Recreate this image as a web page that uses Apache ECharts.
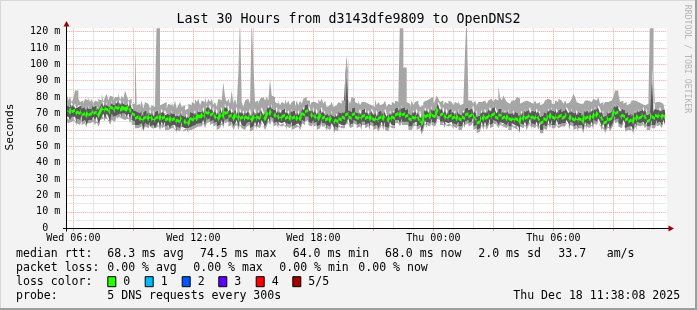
<!DOCTYPE html>
<html><head><meta charset="utf-8">
<script src="https://cdn.jsdelivr.net/npm/echarts@6/dist/echarts.min.js"></script>
<style>html,body{margin:0;padding:0;background:#f3f3f3}#c{width:697px;height:310px}</style>
</head><body><div id="c"></div><script>
// ---- data (ms), 5-minute steps starting Wed 05:40 ----
const dayNames = ['Wed', 'Thu'];
const startMinute = 340;      // Wed 05:40
const stepMinutes = 5;
const nSlots = 360;
const tickLabels = ['Wed 06:00', 'Wed 12:00', 'Wed 18:00', 'Thu 00:00', 'Thu 06:00'];
const yTickValues = [0, 10, 20, 30, 40, 50, 60, 70, 80, 90, 100, 110, 120];

const minRtt = [
65,64,66,65,66,62,64,63,66,63,64,61,64,63,64,65,63,65,62,64,
66,67,65,67,66,63,67,66,65,68,66,68,66,67,67,66,67,64,67,63,
63,61,62,61,62,59,61,62,61,63,60,61,60,61,62,60,63,61,62,60,
61,60,62,61,61,58,60,59,62,60,59,60,58,60,61,60,62,61,63,62,
62,64,61,65,64,65,63,64,62,63,60,61,64,61,66,64,65,62,63,60,
62,64,60,63,61,61,60,62,62,63,59,60,63,60,62,61,64,62,60,62,
65,63,66,64,62,63,61,63,61,62,63,60,62,61,63,60,62,61,62,60,
62,64,63,65,66,63,62,64,62,63,60,61,64,62,62,59,61,60,62,60,
58,60,59,62,60,61,61,63,64,62,61,62,64,63,61,62,60,63,63,61,
62,60,63,62,60,61,59,61,63,60,63,60,59,63,60,61,61,64,64,62,
65,63,64,63,63,60,60,62,62,63,60,61,57,60,64,61,63,62,65,63,
62,64,67,66,63,63,61,63,61,62,63,60,62,61,63,60,60,63,61,63,
64,62,63,66,60,61,58,59,63,60,63,60,62,65,61,62,64,63,61,63,
63,61,62,61,63,60,60,62,60,61,60,58,62,61,63,60,62,65,60,62,
61,63,60,63,58,58,61,60,64,61,64,61,61,64,60,61,63,62,62,64,
62,60,63,62,60,61,59,61,61,58,63,60,62,61,63,60,64,63,65,63,
60,62,58,60,62,59,61,63,67,64,65,62,61,64,62,59,61,60,60,58,
62,60,63,62,62,63,61,63,60,60,64,61,61,64,62,63,61,64,62,61];
const ping2 = [
68,66,69,68,68,64,67,66,69,65,66,63,67,66,66,68,66,68,64,66,
68,70,67,70,68,65,70,69,68,70,69,70,68,70,70,68,70,67,70,66,
65,63,64,63,64,60,63,64,63,65,62,63,61,63,65,62,65,63,65,62,
63,61,64,63,63,59,62,61,65,62,60,61,60,61,63,62,64,63,65,64,
64,66,63,68,66,67,65,66,64,65,62,63,66,63,68,66,67,65,65,62,
64,66,62,66,63,63,62,64,64,65,61,62,65,62,65,63,66,64,62,64,
67,65,68,67,64,65,63,65,63,64,65,62,64,63,65,62,64,63,64,62,
64,66,65,68,68,65,64,66,64,65,62,63,66,64,64,61,63,62,64,62,
60,62,61,64,62,63,63,65,67,64,63,64,66,65,63,64,62,65,65,63,
64,62,65,64,62,63,61,63,65,62,65,62,61,65,62,63,63,66,66,64,
67,65,66,65,65,62,62,64,64,65,62,63,59,62,66,63,65,64,67,65,
64,66,69,68,65,65,63,65,63,64,65,62,64,63,65,62,62,65,63,65,
66,64,65,68,62,63,60,61,65,62,65,62,64,67,63,64,66,65,63,65,
65,63,64,63,65,62,62,64,62,63,62,59,64,63,65,62,64,67,62,64,
63,65,62,65,60,60,63,62,66,63,66,63,63,66,62,63,65,64,64,66,
64,62,65,64,62,63,61,63,63,60,65,62,64,63,65,62,66,65,67,65,
62,64,60,62,64,61,63,65,69,66,67,64,63,66,64,61,63,62,62,60,
64,62,65,64,64,65,63,65,62,62,66,63,63,66,64,65,63,66,64,63];
const medianRtt = [
72,70,73,71,72,69,71,70,72,69,70,68,71,69,70,72,70,71,68,70,
72,74,71,73,72,70,74,73,71,74,73,75,72,74,73,72,74,71,73,70,
69,67,68,66,68,65,67,68,66,69,66,68,65,67,68,66,69,67,68,66,
67,65,68,66,67,64,66,65,68,66,64,66,63,65,67,66,68,66,69,68,
68,70,67,71,70,72,69,70,67,69,66,68,70,67,72,70,71,68,69,66,
68,70,66,69,67,68,66,68,67,69,65,67,69,66,68,67,70,68,66,68,
71,69,72,70,68,70,67,69,66,68,69,67,68,66,69,67,68,66,68,66,
68,70,69,71,72,70,68,70,67,69,66,68,70,67,68,66,67,65,68,66,
64,66,65,67,66,68,67,69,70,68,67,69,70,68,67,69,66,68,69,67,
68,66,69,67,66,68,65,67,68,66,69,67,65,68,66,68,67,69,70,68,
71,69,70,68,69,67,66,68,67,69,66,68,63,65,70,68,69,67,71,69,
68,70,73,71,69,70,67,69,66,68,69,67,68,66,69,67,66,68,67,69,
70,68,69,71,66,68,64,65,68,66,69,67,68,70,67,69,70,68,67,69,
69,67,68,66,69,67,66,68,65,67,66,64,68,66,69,67,68,70,66,68,
67,69,66,68,64,65,67,66,69,67,70,68,67,69,66,68,69,67,68,70,
68,66,69,67,66,68,65,67,66,64,69,67,68,66,69,67,70,68,71,69,
66,68,64,65,68,66,67,69,72,70,71,69,67,69,68,66,67,65,66,64,
68,66,69,67,68,70,67,69,65,66,70,68,67,69,68,70,67,69,68,67];
const ping4 = [
75,74,77,74,76,73,74,75,75,73,74,72,75,73,73,76,74,75,72,74,
76,78,74,77,75,74,78,76,75,78,76,79,75,78,76,75,78,74,77,73,
72,71,71,70,72,68,71,72,69,73,69,72,68,71,72,69,73,70,72,69,
70,69,72,70,70,68,70,68,72,69,68,70,67,69,71,70,72,69,73,71,
71,74,70,75,73,76,72,74,70,73,69,72,74,70,76,73,75,71,73,70,
72,74,69,73,70,72,69,72,70,73,68,71,73,69,72,70,74,71,69,72,
75,73,76,73,72,74,70,73,70,72,73,70,72,69,73,71,72,69,72,69,
72,74,72,75,76,73,71,74,70,73,69,72,74,70,72,69,70,68,72,69,
68,70,68,71,70,72,70,90,104,72,71,73,74,71,70,73,69,72,73,70,
72,69,73,71,69,72,68,71,72,69,73,70,68,72,69,72,70,73,74,71,
75,73,74,72,73,70,69,72,70,73,69,72,67,69,74,71,73,70,75,72,
72,74,77,75,72,74,70,73,69,72,73,70,72,69,73,70,69,72,70,73,
74,72,73,75,70,72,68,69,72,70,73,70,72,74,71,73,74,72,70,73,
73,70,72,70,73,70,70,72,69,71,70,68,72,69,73,71,72,74,70,72,
71,73,70,72,68,69,71,70,73,71,74,72,71,73,70,72,73,71,72,74,
72,70,73,71,70,72,69,71,70,68,73,71,72,70,73,71,74,72,75,73,
70,72,68,69,72,70,71,73,76,74,75,73,71,73,72,70,71,69,70,68,
72,70,73,71,72,74,71,73,69,70,87,100,71,73,72,74,71,73,72,71];
const maxRtt = [
82,78,80,77,79,84,84,79,77,78,76,79,78,80,77,79,76,78,77,79,
78,82,77,80,82,78,81,80,78,80,80,83,78,81,79,84,81,78,79,76,
76,113,75,76,74,78,73,77,76,75,73,75,74,76,130,130,75,76,75,77,
73,76,75,77,74,78,73,75,77,74,75,72,73,76,75,77,76,79,77,79,
75,78,77,80,76,79,77,79,75,77,74,79,78,78,89,80,77,79,76,84,
76,79,75,95,130,77,74,78,79,80,76,130,100,77,78,76,79,80,81,78,
80,78,91,81,80,77,76,78,75,77,76,79,76,78,75,77,78,74,78,75,
78,76,79,80,78,78,75,77,77,76,76,79,77,79,76,78,74,75,75,77,
74,75,76,77,76,78,78,92,106,79,76,80,79,77,76,78,75,77,77,78,
76,77,75,76,74,79,75,77,75,76,77,78,74,76,75,77,76,78,77,79,
130,130,98,98,77,76,74,78,75,77,78,76,74,75,77,78,77,79,78,80,
76,78,81,79,77,78,75,77,76,78,77,76,75,77,76,78,75,76,77,108,
130,78,78,77,76,78,75,77,77,78,78,77,76,78,79,80,77,79,78,87,
80,78,81,79,77,76,76,78,78,79,80,79,76,77,77,78,78,77,78,76,
77,78,76,77,75,76,77,78,79,80,78,76,76,78,77,79,78,77,76,78,
76,77,78,79,82,80,77,76,75,76,76,78,78,79,77,76,79,78,78,80,
76,77,75,77,77,78,78,79,80,84,84,82,77,78,76,77,75,76,77,78,
78,77,77,76,76,77,75,76,76,77,130,130,76,77,78,77,78,76,77,76];

// legend texts
const titleText = 'Last 30 Hours from d3143dfe9809 to OpenDNS2';
const medianStats = ['68.3 ms avg', '74.5 ms max', '64.0 ms min', '68.0 ms now', '2.0 ms sd', '33.7', 'am/s'];
const lossStats = ['0.00 % avg', '0.00 % max', '0.00 % min', '0.00 % now'];
const lossLabels = ['0', '1', '2', '3', '4', '5/5'];
const lossColors = ['#26ff00', '#00b8ff', '#0059ff', '#5e00ff', '#ff0000', '#a10000'];
const probeText = '5 DNS requests every 300s';
const dateText = 'Thu Dec 18 11:38:08 2025';
const sideText = 'RRDTOOL / TOBI OETIKER';

// ---- categories ----
const categories = [];
for (let i = 0; i <= nSlots; i++) {
  const t = startMinute + stepMinutes * i;
  const d = Math.floor(t / 1440), m = t % 1440;
  categories.push(dayNames[d] + ' ' + String(Math.floor(m / 60)).padStart(2, '0') + ':' + String(m % 60).padStart(2, '0'));
}
function hm(v) { const p = v.split(' ')[1].split(':'); return [+p[0], +p[1]]; }
const isMajorV = (i, v) => { const [h, m] = hm(v); return m === 0 && h % 3 === 0; };
const isMinorV = (i, v) => { const [h, m] = hm(v); return m === 0 && h % 3 !== 0; };

// stacked pieces
const lightLow = ping2.map((v, i) => v - minRtt[i]);
const darkMid = ping4.map((v, i) => v - ping2[i]);
const lightHigh = maxRtt.map((v, i) => v - ping4[i]);
const medHalf = 0.9;
const medBase = medianRtt.map(v => v - medHalf);
const medBand = medianRtt.map(() => medHalf * 2);

const LIGHT = '#a6a6a6', DARK = '#585858';
const MONO = 'DejaVu Sans Mono';
const RED = '#eca4a4', GRAY = '#d2d2d2';

const plotL = 66.7, plotW = 600, plotT = 28.3, plotB = 228.2;
const pxPerMs = (plotB - plotT) / 122;

function band(name, stack, data, color) {
  const s = { type: 'line', name, stack, data, step: 'end', showSymbol: false, symbol: 'none',
    lineStyle: { width: 0, opacity: 0 }, xAxisIndex: 0, yAxisIndex: 0, silent: true, z: 3 };
  if (color) s.areaStyle = { color, opacity: 1 };
  return s;
}

const chart = echarts.init(document.getElementById('c'), null, { renderer: 'canvas' });
const graphics = [];
function txt(x, y, text, style, rotation) {
  graphics.push({ type: 'text', x, y, rotation: rotation || 0, silent: true, z: 100,
    style: Object.assign({ x: 0, y: 0, text, font: '11.55px "' + MONO + '"', fill: '#000',
      textAlign: 'left', textVerticalAlign: 'middle', verticalAlign: 'middle' }, style || {}) });
}
// frame
graphics.push({ type: 'rect', shape: { x: 0, y: 0, width: 697, height: 1 }, style: { fill: '#d8d8d8' }, z: 100 });
graphics.push({ type: 'rect', shape: { x: 0, y: 0, width: 1, height: 310 }, style: { fill: '#d8d8d8' }, z: 100 });
graphics.push({ type: 'rect', shape: { x: 695, y: 0, width: 2, height: 310 }, style: { fill: '#9e9e9e' }, z: 100 });
graphics.push({ type: 'rect', shape: { x: 0, y: 308, width: 697, height: 2 }, style: { fill: '#9e9e9e' }, z: 100 });
// axes lines and arrows
graphics.push({ type: 'line', shape: { x1: 63, y1: 228.5, x2: 669, y2: 228.5 }, style: { stroke: '#000', lineWidth: 1 }, z: 50 });
graphics.push({ type: 'line', shape: { x1: 66.5, y1: 231.5, x2: 66.5, y2: 25 }, style: { stroke: '#000', lineWidth: 1 }, z: 50 });
graphics.push({ type: 'polygon', shape: { points: [[63.5, 26.5], [69.5, 26.5], [66.5, 21]] }, style: { fill: '#a00000' }, z: 51 });
graphics.push({ type: 'polygon', shape: { points: [[668.5, 225.5], [668.5, 231.5], [674, 228.5]] }, style: { fill: '#a00000' }, z: 51 });
// title and side texts
txt(348.5, 19.5, titleText, { font: '13.3px "' + MONO + '"', textAlign: 'center' });
txt(10.5, 127, 'Seconds', { font: '11.2px "' + MONO + '"', textAlign: 'center' }, Math.PI / 2);
txt(687.5, 59, sideText, { font: '8.2px "' + MONO + '"', textAlign: 'center', fill: '#b4b4b4' }, -Math.PI / 2);
// legend rows
const r1 = 254.2, r2 = 268.2, r3 = 282.2, r4 = 296.2;
txt(16, r1, 'median rtt:');
[107.3, 200, 292.7, 385, 478.3, 558.3, 606.7].forEach((x, k) => txt(x, r1, medianStats[k]));
txt(16, r2, 'packet loss:');
[107.3, 193.3, 279.3, 358.3].forEach((x, k) => txt(x, r2, lossStats[k]));
txt(16, r3, 'loss color:');
[108.3, 145.7, 182.7, 219.3, 256.7, 293.3].forEach((x, k) => {
  graphics.push({ type: 'rect', shape: { x: x - 0.5, y: r3 - 5.5, width: 8, height: 10 }, style: { fill: lossColors[k], stroke: '#000', lineWidth: 1 }, z: 100 });
  txt(x + 15, r3, lossLabels[k]);
});
txt(16, r4, 'probe:');
txt(107.3, r4, probeText);
txt(513.3, r4, dateText);

const option = {
  animation: false,
  backgroundColor: '#f3f3f3',
  grid: [
    { left: plotL, top: plotT, width: plotW, height: plotB - plotT, show: true, backgroundColor: '#ffffff', borderWidth: 0, containLabel: false },
    { left: plotL, top: plotB - 115 * pxPerMs, width: plotW, height: 110 * pxPerMs, show: false, containLabel: false }
  ],
  xAxis: [
    { type: 'category', gridIndex: 0, data: categories, boundaryGap: false, position: 'bottom',
      axisLine: { show: false },
      axisTick: { show: true, length: 2, interval: isMinorV, lineStyle: { color: GRAY } },
      axisLabel: { interval: (i, v) => tickLabels.indexOf(v) >= 0, fontFamily: MONO, fontSize: 10, color: '#000', margin: 5, hideOverlap: false },
      splitLine: { show: true, interval: isMinorV, lineStyle: { color: GRAY, type: [1, 1], width: 1 } } },
    { type: 'category', gridIndex: 0, data: categories, boundaryGap: false, position: 'bottom',
      axisLine: { show: false }, axisLabel: { show: false },
      axisTick: { show: true, length: 3, interval: isMajorV, lineStyle: { color: RED } },
      splitLine: { show: true, interval: isMajorV, lineStyle: { color: RED, type: [1, 1], width: 1 } } },
    { type: 'category', gridIndex: 1, data: categories, boundaryGap: false,
      axisLine: { show: false }, axisLabel: { show: false }, axisTick: { show: false }, splitLine: { show: false } }
  ],
  yAxis: [
    { type: 'value', gridIndex: 0, min: 0, max: 122, interval: 10,
      axisLine: { show: false }, axisTick: { show: false },
      axisLabel: { fontFamily: MONO, fontSize: 10, color: '#000', margin: 6.5,
        formatter: v => yTickValues.indexOf(v) < 0 ? '' : (v === 0 ? '0  ' : v + ' m') },
      splitLine: { show: true, showMinLine: false, showMaxLine: false, lineStyle: { color: RED, type: [1, 1], width: 1 } } },
    { type: 'value', gridIndex: 1, min: 5, max: 115, interval: 10,
      axisLine: { show: false }, axisTick: { show: false }, axisLabel: { show: false },
      splitLine: { show: true, lineStyle: { color: GRAY, type: [1, 1], width: 1 } } }
  ],
  series: [
    band('base', 'smoke', minRtt, null),
    band('low', 'smoke', lightLow, LIGHT),
    band('mid', 'smoke', darkMid, DARK),
    band('high', 'smoke', lightHigh, LIGHT),
    band('medbase', 'med', medBase, null),
    band('median', 'med', medBand, lossColors[0])
  ],
  graphic: { elements: graphics }
};
chart.setOption(option);
</script></body></html>
